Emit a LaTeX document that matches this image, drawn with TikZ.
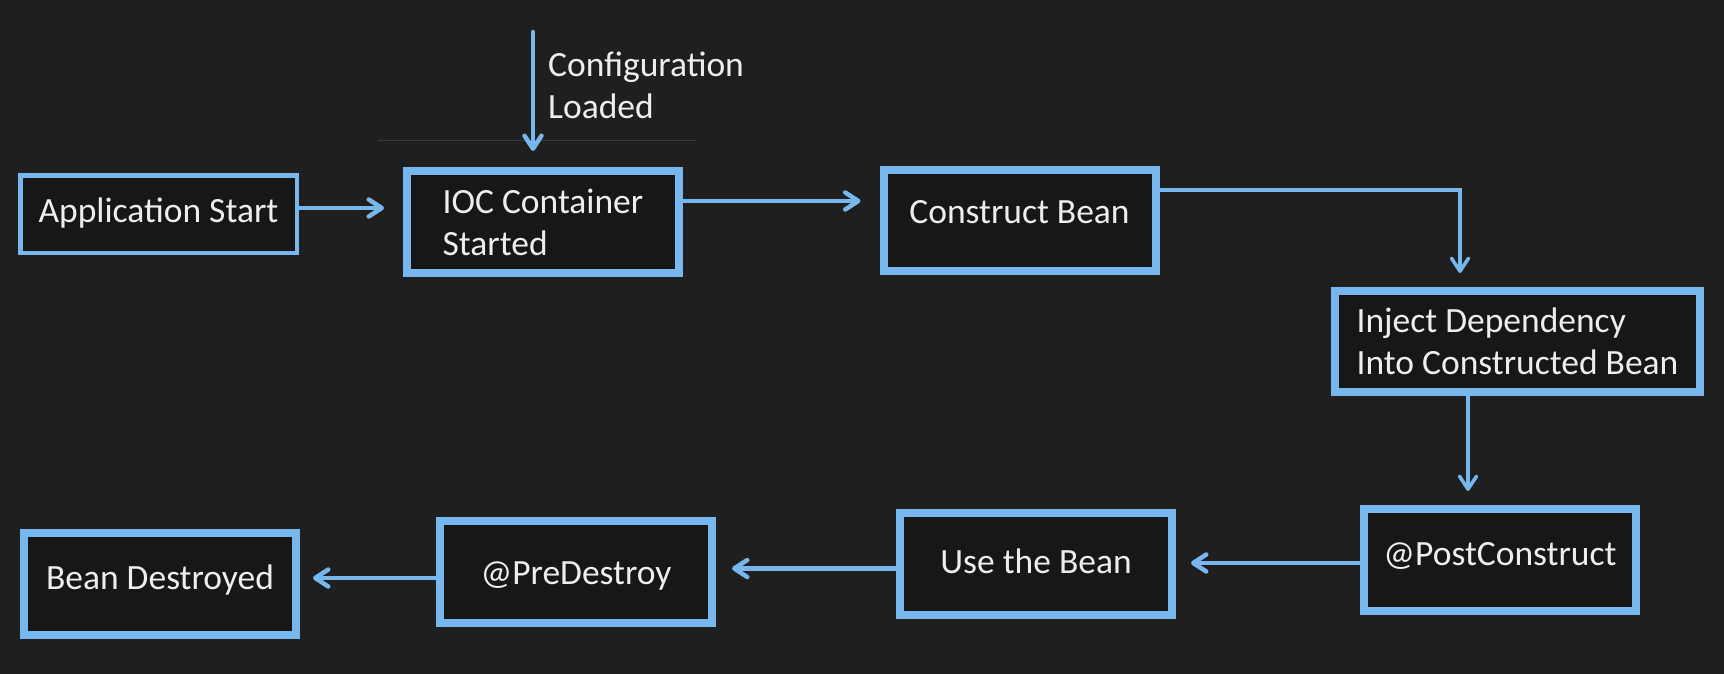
\documentclass[tikz,border=0pt]{standalone}
\usepackage{fontspec}
\setmainfont{Carlito}
\usetikzlibrary{arrows.meta}
\definecolor{bgc}{HTML}{1F1F1F}
\definecolor{boxfill}{HTML}{171717}
\definecolor{edge}{HTML}{78B6EE}
\definecolor{txt}{HTML}{EEEEEE}
\definecolor{faint}{HTML}{3A3A3A}
\begin{document}
\begin{tikzpicture}[x=1pt,y=-1pt,
  every node/.style={font=\fontsize{35.5}{42}\selectfont, text=txt},
  boxthick/.style={draw=edge, line width=8pt, fill=boxfill, minimum width=272pt, minimum height=102pt, inner sep=0pt},
  boxthin/.style={draw=edge, line width=4.5pt, fill=boxfill, inner sep=0pt},
  bl/.style={text depth=0pt, text height=#1},
  arr/.style={draw=edge, line width=4.5pt, line cap=round, -{Straight Barb[length=13pt,width=17pt,round]}},
]
\useasboundingbox (0,0) rectangle (1724,674);
\fill[bgc] (0,0) rectangle (1724,674);

% faint rule
\coordinate (fl1) at (378,141);
\coordinate (fl2) at (696,141);
\draw[faint, line width=1pt] (fl1) -- (fl2);

% boxes
\node[boxthin, minimum width=276.5pt, minimum height=77.5pt, bl=16pt] (app) at (158.5,214) {Application Start};
\node[boxthick, align=left] (ioc) at (543,222) {IOC Container\\Started};
\node[boxthick, minimum height=101pt, bl=5pt] (cons) at (1019.5,220.5) {Construct Bean};
\node[boxthick, minimum width=365pt, minimum height=101pt, align=left] (inj) at (1517.5,341.5) {Inject Dependency\\Into Constructed Bean};
\node[boxthick, bl=10pt] (post) at (1500,560) {@PostConstruct};
\node[boxthick, bl=18pt] (use) at (1036,564) {Use the Bean};
\node[boxthick, bl=24pt] (pre) at (576,572) {@PreDestroy};
\node[boxthick, bl=10pt] (dest) at (160,584) {Bean Destroyed};

% configuration label and arrow
\node[anchor=north west, align=left, inner sep=0pt] (cfg) at (548,52) {Configuration\\Loaded};
\coordinate (cfgTop) at (533,32);
\draw[arr, shorten >=16pt] (cfgTop) -- (cfgTop |- ioc.north);

% connectors
\draw[arr, shorten >=19pt] ([yshift=6pt]app.east) -- ([yshift=6pt]app.east -| ioc.west);
\draw[arr, shorten >=19pt] ([yshift=21pt]ioc.east) -- ([yshift=21pt]ioc.east -| cons.west);
\draw[arr, line width=3.5pt, shorten >=14pt] ([yshift=30.5pt]cons.east) -| ([xshift=-57.5pt]inj.north);
\draw[arr, line width=3.5pt, shorten >=14pt] ([xshift=-49.5pt]inj.south) -- ([xshift=-49.5pt]inj.south |- post.north);
\draw[arr, shorten >=15pt] ([yshift=-3pt]post.west) -- ([yshift=-3pt]post.west -| use.east);
\draw[arr, shorten >=16pt] ([yshift=-4.5pt]use.west) -- ([yshift=-4.5pt]use.west -| pre.east);
\draw[arr, shorten >=13pt] ([yshift=-6pt]pre.west) -- ([yshift=-6pt]pre.west -| dest.east);
\end{tikzpicture}
\end{document}
